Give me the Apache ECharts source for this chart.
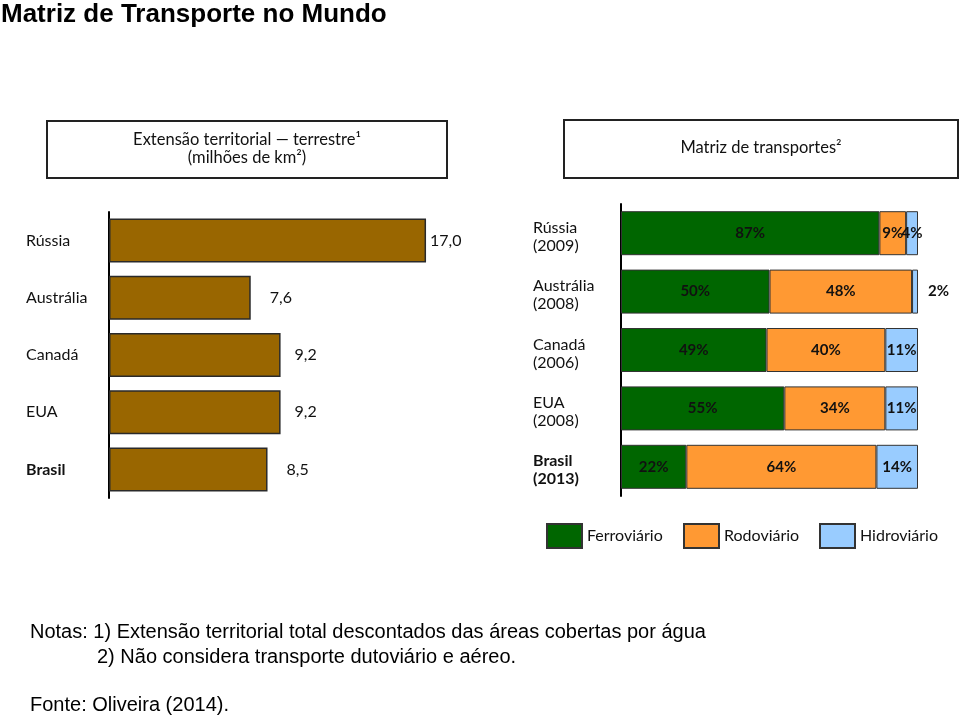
<!DOCTYPE html>
<html>
<head>
<meta charset="utf-8">
<script src="https://cdn.jsdelivr.net/npm/echarts@6/dist/echarts.min.js"></script>
<style>
html,body{margin:0;padding:0;background:#fff;}
#chart{width:960px;height:718px;}
</style>
</head>
<body>
<div id="chart"></div>
<script>
// ---- data ----
var areaCountries = ['Rússia', 'Austrália', 'Canadá', 'EUA', 'Brasil'];
var areaValues = [17.0, 7.6, 9.2, 9.2, 8.5];
var areaLabelGap = [4, 19, 14, 14, 19];

var matrixCountries = ['Rússia', 'Austrália', 'Canadá', 'EUA', 'Brasil'];
var matrixYears = ['2009', '2008', '2006', '2008', '2013'];
var ferroviario = [87, 50, 49, 55, 22];
var rodoviario = [9, 48, 40, 34, 64];
var hidroviario = [4, 2, 11, 11, 14];

var modeNames = ['Ferroviário', 'Rodoviário', 'Hidroviário'];
var modeColors = ['#006600', '#FF9933', '#99CCFF'];

var FONT = 'Lato';
var chart = echarts.init(document.getElementById('chart'), null, {renderer: 'canvas'});

var matrixLabels = matrixCountries.map(function (c, i) { return c + '\n(' + matrixYears[i] + ')'; });

function pctSeries(name, values, idx) {
  return {
    name: name,
    type: 'bar',
    stack: 'matriz',
    xAxisIndex: 1,
    yAxisIndex: 1,
    barWidth: 44,
    itemStyle: {color: modeColors[idx], borderColor: '#333', borderWidth: 1},
    label: {show: true, position: 'inside', formatter: '{c}%', fontFamily: FONT, fontSize: 15, fontWeight: 'bold', color: '#111'},
    data: values.map(function (v) {
      if (v < 3) {
        return {value: v, label: {position: 'right', distance: 10}};
      }
      return v;
    })
  };
}

var option = {
  backgroundColor: '#ffffff',
  animation: false,
  title: {
    text: 'Matriz de Transporte no Mundo',
    left: 1, top: 2, padding: 0,
    textStyle: {fontFamily: 'Liberation Sans', fontSize: 26, fontWeight: 'bold', color: '#000'}
  },
  legend: [0, 1, 2].map(function (i) {
    return {
      data: [modeNames[i]],
      left: [546, 683, 819][i], top: 523, padding: 0,
      itemWidth: 35, itemHeight: 24, icon: 'rect',
      textStyle: {fontFamily: FONT, fontSize: 16, color: '#111'}
    };
  }),
  grid: [
    {left: 109, top: 212, width: 373, height: 286},
    {left: 621, top: 204, width: 297, height: 292}
  ],
  xAxis: [
    {gridIndex: 0, type: 'value', min: 0, max: 20, show: false},
    {gridIndex: 1, type: 'value', min: 0, max: 100, show: false}
  ],
  yAxis: [
    {
      gridIndex: 0, type: 'category', inverse: true, data: areaCountries,
      axisLine: {show: true, lineStyle: {color: '#000', width: 2}},
      axisTick: {show: false},
      axisLabel: {
        align: 'left', margin: 83, fontFamily: FONT, fontSize: 16, color: '#111',
        formatter: function (v) { return v === 'Brasil' ? '{b|' + v + '}' : v; },
        rich: {b: {fontFamily: FONT, fontSize: 16, fontWeight: 'bold', color: '#111'}}
      }
    },
    {
      gridIndex: 1, type: 'category', inverse: true, data: matrixLabels,
      axisLine: {show: true, lineStyle: {color: '#000', width: 2}},
      axisTick: {show: false},
      axisLabel: {
        align: 'left', margin: 88, fontFamily: FONT, fontSize: 16, color: '#111', lineHeight: 18,
        padding: [7, 0, 0, 0],
        formatter: function (v) {
          if (v.indexOf('Brasil') === 0) {
            return v.split('\n').map(function (s) { return '{b|' + s + '}'; }).join('\n');
          }
          return v;
        },
        rich: {b: {fontFamily: FONT, fontSize: 16, fontWeight: 'bold', color: '#111', lineHeight: 18}}
      }
    }
  ],
  series: [
    {
      name: 'Extensão',
      type: 'bar',
      xAxisIndex: 0, yAxisIndex: 0,
      barWidth: 44,
      itemStyle: {color: '#996600', borderColor: '#2a2a2a', borderWidth: 1.5},
      label: {show: true, position: 'right', fontFamily: FONT, fontSize: 16, color: '#111',
        formatter: function (p) { return p.value.toFixed(1).replace('.', ','); }},
      data: areaValues.map(function (v, i) { return {value: v, label: {distance: areaLabelGap[i]}}; })
    },
    pctSeries(modeNames[0], ferroviario, 0),
    pctSeries(modeNames[1], rodoviario, 1),
    pctSeries(modeNames[2], hidroviario, 2)
  ],
  graphic: [
    {type: 'rect', shape: {x: 47, y: 121, width: 400, height: 57}, style: {fill: '#fff', stroke: '#222', lineWidth: 2}, z: -1},
    {type: 'text', x: 247, y: 140, style: {text: 'Extensão territorial — terrestre¹', font: '16.5px Lato', fill: '#111', textAlign: 'center', textVerticalAlign: 'middle'}},
    {type: 'text', x: 247, y: 158, style: {text: '(milhões de km²)', font: '16.5px Lato', fill: '#111', textAlign: 'center', textVerticalAlign: 'middle'}},
    {type: 'rect', shape: {x: 564, y: 120, width: 394, height: 58}, style: {fill: '#fff', stroke: '#222', lineWidth: 2}, z: -1},
    {type: 'text', x: 761, y: 148, style: {text: 'Matriz de transportes²', font: '16.5px Lato', fill: '#111', textAlign: 'center', textVerticalAlign: 'middle'}},
    {type: 'text', x: 30, y: 632, style: {text: 'Notas: 1) Extensão territorial total descontados das áreas cobertas por água', font: '20px "Liberation Sans"', fill: '#000', textVerticalAlign: 'middle'}},
    {type: 'text', x: 97, y: 657, style: {text: '2) Não considera transporte dutoviário e aéreo.', font: '20px "Liberation Sans"', fill: '#000', textVerticalAlign: 'middle'}},
    {type: 'text', x: 30, y: 705, style: {text: 'Fonte: Oliveira (2014).', font: '20px "Liberation Sans"', fill: '#000', textVerticalAlign: 'middle'}}
  ]
};
chart.setOption(option);
</script>
</body>
</html>
